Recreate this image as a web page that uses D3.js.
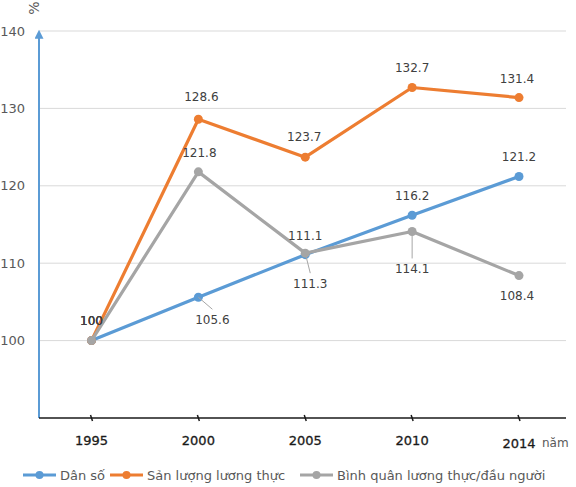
<!DOCTYPE html>
<html>
<head>
  <meta charset="utf-8">
  <title>Dân số, sản lượng lương thực</title>
  <script src="https://d3js.org/d3.v7.min.js"></script>
  <style>
    body { margin: 0; background: #fff; }
    .chart { font-family: "DejaVu Sans", sans-serif; }
    .grid line { stroke: #d9d9d9; stroke-width: 1; }
    .y-label { font-size: 13px; fill: #595959; }
    .x-label { font-size: 13px; fill: #1a1a1a; stroke: #1a1a1a; stroke-width: 0.3; }
    .data-label { font-size: 12px; fill: #404040; }
    .legend-text { font-size: 13px; fill: #595959; }
  </style>
</head>
<body>
  <svg class="chart" width="576" height="487"></svg>

  <script>
    // Data
    const years = ["1995", "2000", "2005", "2010", "2014"];
    const danSo = [100, 105.6, 111.1, 116.2, 121.2];
    const sanLuong = [100, 128.6, 123.7, 132.7, 131.4];
    const binhQuan = [100, 121.8, 111.3, 114.1, 108.4];
    const yTicks = [100, 110, 120, 130, 140];

    const series = [
      { name: "Dân số", values: danSo, color: "#5b9bd5" },
      { name: "Sản lượng lương thực", values: sanLuong, color: "#ed7d31" },
      { name: "Bình quân lương thực/đầu người", values: binhQuan, color: "#a5a5a5" }
    ];

    // label placement per series (offset from point, and whether a leader line is drawn)
    const labelPos = [
      [[0, -20], [14, 22, true], [0, -19], [0, -20], [0, -20]],
      [[0, -20], [3, -23], [-1, -21], [0, -20], [-2, -19]],
      [[0, -20], [1, -19], [5, 30, true], [0, 37, true], [-2, 20]]
    ];

    const svg = d3.select("svg");
    const plotL = 39, plotR = 566, plotT = 31, plotB = 418;

    const x = d3.scalePoint().domain(years).range([91.5, 519]);
    const y = d3.scaleLinear().domain([90, 140]).range([plotB, plotT]);

    // gridlines
    svg.append("g").attr("class", "grid")
      .selectAll("line").data(yTicks).enter().append("line")
      .attr("x1", plotL).attr("x2", plotR)
      .attr("y1", d => y(d)).attr("y2", d => y(d));

    // y tick labels
    svg.append("g").selectAll("text").data(yTicks).enter().append("text")
      .attr("class", "y-label")
      .attr("x", 25).attr("y", d => y(d) + 4.5)
      .attr("text-anchor", "end")
      .text(d => d);

    // y axis with arrow
    svg.append("defs").append("marker")
      .attr("id", "arrow").attr("viewBox", "0 0 10 10")
      .attr("refX", 3).attr("refY", 5)
      .attr("markerWidth", 5).attr("markerHeight", 4.5).attr("orient", "auto")
      .append("path").attr("d", "M0,0L10,5L0,10z").attr("fill", "#5b9bd5");
    svg.append("line")
      .attr("x1", plotL).attr("x2", plotL)
      .attr("y1", plotB).attr("y2", plotT + 5)
      .attr("stroke", "#5b9bd5").attr("stroke-width", 2)
      .attr("marker-end", "url(#arrow)");

    svg.append("text").attr("class", "y-label")
      .attr("transform", "translate(39,8) rotate(-90)")
      .attr("text-anchor", "middle").style("font-size", "14px").text("%");

    // x axis
    svg.append("line")
      .attr("x1", plotL).attr("x2", plotR)
      .attr("y1", plotB).attr("y2", plotB)
      .attr("stroke", "#1a1a1a").attr("stroke-width", 1.5);
    svg.append("g").selectAll("line").data(years).enter().append("line")
      .attr("x1", d => x(d) - 1).attr("x2", d => x(d) + 1)
      .attr("y1", plotB - 3).attr("y2", plotB + 3)
      .attr("stroke", "#1a1a1a").attr("stroke-width", 1.5);
    svg.append("g").selectAll("text").data(years).enter().append("text")
      .attr("class", "x-label")
      .attr("x", d => x(d)).attr("y", (d, i) => i === 4 ? 448 : 445)
      .attr("text-anchor", "middle").text(d => d);
    svg.append("text").attr("class", "legend-text")
      .attr("x", 542).attr("y", 447).style("font-size", "12px").text("năm");

    const line = d3.line().x((d, i) => x(years[i])).y(d => y(d));

    // series lines and markers
    series.forEach((s, si) => {
      const g = svg.append("g");
      g.append("path").datum(s.values)
        .attr("d", line).attr("fill", "none")
        .attr("stroke", s.color).attr("stroke-width", 3.2)
        .attr("stroke-linejoin", "round");
      g.selectAll("circle").data(s.values).enter().append("circle")
        .attr("cx", (d, i) => x(years[i])).attr("cy", d => y(d))
        .attr("r", 4.5).attr("fill", s.color);
    });

    // data labels
    series.forEach((s, si) => {
      const g = svg.append("g");
      s.values.forEach((v, i) => {
        const px = x(years[i]), py = y(v);
        const [dx, dy, leader] = labelPos[si][i];
        if (leader) {
          g.append("line")
            .attr("x1", px).attr("y1", py)
            .attr("x2", px + dx).attr("y2", py + dy - 12 * Math.sign(dy) + (dy > 0 ? 2 : 0))
            .attr("stroke", "#a6a6a6").attr("stroke-width", 1);
        }
        g.append("text").attr("class", "data-label")
          .attr("x", px + dx).attr("y", py + dy + 4.5)
          .attr("text-anchor", "middle")
          .text(d3.format(".1f")(v).replace(/\.0$/, ""));
      });
    });

    // legend
    const legendX = [23, 110, 300];
    const legend = svg.append("g");
    series.forEach((s, i) => {
      const lx = legendX[i], ly = 475;
      legend.append("line")
        .attr("x1", lx).attr("x2", lx + 33).attr("y1", ly).attr("y2", ly)
        .attr("stroke", s.color).attr("stroke-width", 3.2);
      legend.append("circle").attr("cx", lx + 16.5).attr("cy", ly).attr("r", 4).attr("fill", s.color);
      legend.append("text").attr("class", "legend-text")
        .attr("x", lx + 37).attr("y", ly + 5).text(s.name);
    });
  </script>
</body>
</html>
